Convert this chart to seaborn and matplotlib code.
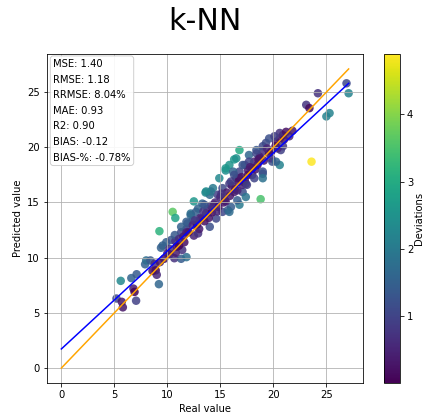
import numpy as np
import pandas as pd
import matplotlib
matplotlib.use("Agg")
import matplotlib.pyplot as plt
import seaborn as sns

# ---- data ----
real_value = [
    5.2, 5.6, 5.8, 5.7, 6.6, 7.1, 6.8, 6.9, 7.05, 7.9, 8.0, 8.4, 8.8, 8.9, 9.0, 9.2, 9.25, 9.55, 9.4, 9.9,
    10.35, 10.75, 10.2, 10.2, 10.66, 11.3, 11.8, 10.8, 11.4, 11.1, 11.6, 11.3, 11.8, 11.9, 12.4, 12.2, 12.7, 12.5, 12.9, 12.5,
    10.5, 10.75,
    16.8, 16.3, 15.5, 14.9, 13.6, 14.3, 14.0, 13.3, 12.9, 12.2, 11.8, 11.3, 10.7, 14.0, 14.6, 15.2, 16.0, 16.8,
    15.7, 16.6, 17.1, 17.4, 18.0, 18.5, 19.0, 19.3, 18.4, 17.7, 17.3, 16.8, 16.5, 15.85, 15.2, 14.75, 13.2, 12.4, 13.0, 11.8,
    11.1, 13.65, 14.4, 15.4, 16.3, 17.1, 17.6, 18.2, 18.7, 15.85, 16.2, 18.8,
    26.9, 27.1, 24.2, 23.1, 23.4, 25.3, 25.0, 23.6, 21.8, 20.9, 20.6, 20.25, 20.6, 21.0, 20.9, 20.7, 20.6, 19.9, 19.6, 19.0,
    16.5, 17.1, 17.7, 18.4, 18.7, 18.0, 17.6, 19.0, 18.2, 16.8, 16.3, 17.1, 19.6, 20.1,
    12.0, 12.8, 13.1, 13.5, 13.8, 14.2, 14.5, 14.8, 15.0, 15.3, 15.6, 15.9, 16.1, 16.4, 16.7, 17.0, 17.3, 17.8, 18.3, 18.6,
    19.1, 19.4, 19.8, 20.2, 20.4, 21.2, 21.5, 13.4, 14.1, 15.1, 16.0, 12.6, 11.5, 10.9, 9.7, 9.3, 10.0, 8.6, 13.9, 14.7,
    15.5, 16.6, 17.5, 19.8, 20.25, 19.0, 19.0, 15.5, 14.1, 13.65, 13.5, 15.85, 17.4,
]
predicted_value = [
    6.3, 7.9, 5.5, 6.0, 8.15, 8.5, 7.2, 6.9, 6.1, 9.4, 9.75, 9.75, 9.45, 8.85, 8.45, 7.6, 12.4, 11.1, 10.9, 11.4,
    11.6, 11.5, 10.8, 10.3, 9.95, 9.9, 10.05, 10.45, 10.7, 11.1, 11.4, 12.3, 12.6, 13.1, 13.4, 14.0, 14.15, 12.0, 12.2, 15.1,
    14.15, 13.6,
    19.75, 18.9, 17.9, 17.2, 15.9, 16.3, 15.7, 14.9, 14.45, 13.85, 13.25, 12.8, 12.05, 12.8, 13.55, 14.15, 14.6, 14.8,
    14.3, 15.2, 15.95, 16.7, 17.5, 18.4, 19.6, 20.4, 19.75, 19.3, 18.4, 17.8, 17.2, 16.7, 16.3, 15.7, 13.55, 12.95, 12.6, 12.3,
    11.7, 14.0, 14.8, 15.2, 15.95, 16.9, 17.95, 18.7, 19.15, 18.4, 17.8, 15.3,
    25.8, 24.9, 24.9, 23.85, 23.55, 23.1, 22.8, 18.7, 21.5, 21.1, 20.8, 20.5, 21.3, 20.7, 20.1, 19.75, 18.4, 18.7, 19.45, 20.1,
    19.0, 18.4, 18.7, 19.45, 19.0, 18.1, 17.5, 17.6, 17.2, 17.2, 17.5, 16.6, 20.8, 21.0,
    12.3, 13.0, 13.6, 13.3, 14.4, 14.1, 15.0, 14.6, 15.5, 15.0, 15.9, 15.6, 16.5, 16.2, 16.9, 17.3, 17.0, 18.2, 18.0, 18.9,
    18.8, 19.9, 19.6, 20.1, 19.9, 21.4, 21.0, 14.2, 14.7, 15.8, 16.9, 13.4, 11.9, 11.0, 9.9, 9.6, 10.4, 8.8, 13.6, 14.2,
    15.1, 16.1, 16.6, 19.0, 18.7, 17.8, 17.2, 18.1, 16.0, 16.0, 14.8, 14.15, 15.5,
]
fit_intercept = 1.73
fit_slope = 0.888
metric_lines = ["MSE: 1.40", "RMSE: 1.18", "RRMSE: 8.04%", "MAE: 0.93",
                "R2: 0.90", "BIAS: -0.12", "BIAS-%: -0.78%"]
title = "k-NN"

df = pd.DataFrame({"real": real_value, "pred": predicted_value})
df["dev"] = (df["pred"] - df["real"]).abs()
vmin, vmax = df["dev"].min(), df["dev"].max()

fig = plt.figure(figsize=(425 / 72, 415 / 72), dpi=72)
ax = fig.add_axes([47 / 425, 32 / 415, 316 / 425, 329 / 415])
cax = fig.add_axes([384 / 425, 32 / 415, 16 / 425, 329 / 415])

sns.scatterplot(data=df, x="real", y="pred", hue="dev", palette="viridis",
                hue_norm=(vmin, vmax), legend=False, s=72, linewidth=0,
                alpha=0.85, ax=ax)

xmax = df["real"].max()
xs = np.array([0.0, xmax])
ax.plot(xs, fit_intercept + fit_slope * xs, color="blue", lw=1.5)
ax.plot(xs, xs, color="orange", lw=1.5)

ax.grid(True)
ax.set_xticks([0, 5, 10, 15, 20, 25])
ax.set_yticks([0, 5, 10, 15, 20, 25])
ax.tick_params(labelsize=10)
ax.set_xlabel("Real value", fontsize=10)
ax.set_ylabel("Predicted value", fontsize=10)
ax.set_title(title, fontsize=30, pad=24)

ax.text(0.02, 0.985, "\n".join(metric_lines), transform=ax.transAxes,
        fontsize=10, va="top", ha="left", linespacing=1.7,
        bbox=dict(boxstyle="round", facecolor="white", edgecolor="0.8", alpha=0.9))

sm = plt.cm.ScalarMappable(cmap="viridis", norm=plt.Normalize(vmin, vmax))
cb = fig.colorbar(sm, cax=cax)
cb.set_ticks([1, 2, 3, 4])
cb.ax.tick_params(labelsize=10)
cb.set_label("Deviations", fontsize=10, labelpad=1)

fig.savefig("out.png", dpi=72)
